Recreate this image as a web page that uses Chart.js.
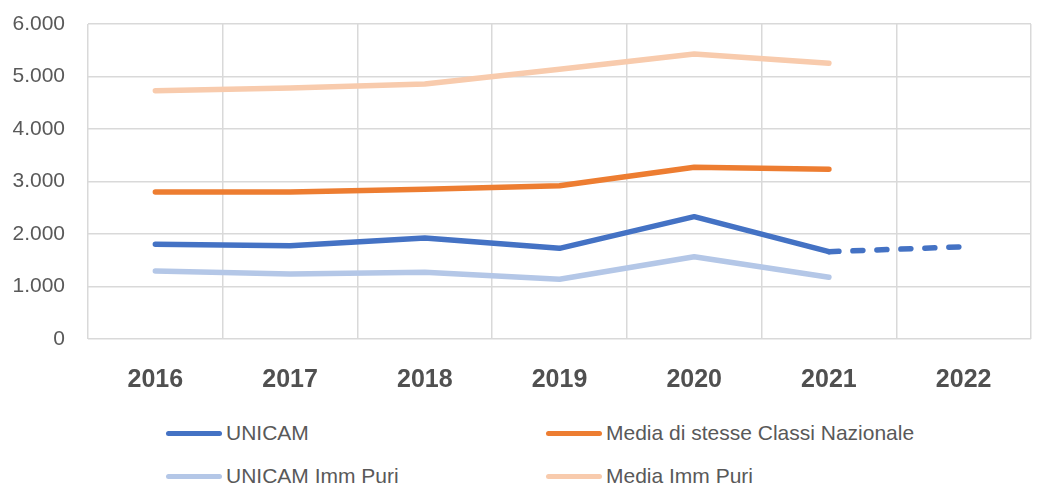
<!DOCTYPE html>
<html>
<head>
<meta charset="utf-8">
<script src="https://cdn.jsdelivr.net/npm/chart.js@4"></script>
<style>
  body { margin: 0; background: #fff; font-family: "Liberation Sans", Arial, sans-serif; }
  #wrap { position: relative; width: 1038px; height: 489px; }
  #chartBox { position: absolute; left: 0; top: 0; width: 1038px; height: 405px; }
  .leg { position: absolute; display: flex; align-items: center; font-size: 21px; color: #595959; white-space: nowrap; }
  .leg span.sw { display: inline-block; width: 56px; height: 5px; border-radius: 3px; margin-right: 4px; }
</style>
</head>
<body>
<div id="wrap">
  <div id="chartBox"><canvas id="weatherChart"></canvas></div>
  <div id="legend"></div>
</div>
<script>
// Data
const years = ['2016', '2017', '2018', '2019', '2020', '2021', '2022'];
const unicam = [1804, 1778, 1924, 1727, 2330, 1663, 1758];
const mediaClassi = [2800, 2800, 2851, 2920, 3270, 3232, null];
const unicamImmPuri = [1295, 1238, 1270, 1137, 1568, 1175, null];
const mediaImmPuri = [4730, 4781, 4857, 5137, 5429, 5251, null];
const yTicks = [0, 1000, 2000, 3000, 4000, 5000, 6000];

const seriesNames = ['UNICAM', 'Media di stesse Classi Nazionale', 'UNICAM Imm Puri', 'Media Imm Puri'];
const seriesColors = ['#4472C4', '#ED7D31', '#B4C7E7', '#F8CBAD'];

function formatIt(v) {
  return v.toLocaleString('it-IT').replace(/\u00a0/g, '.');
}

// Build the datasets
function makeDataset(i, values) {
  return {
    label: seriesNames[i],
    data: values,
    borderColor: seriesColors[i],
    backgroundColor: seriesColors[i],
    borderWidth: 5.5,
    borderCapStyle: 'round',
    borderJoinStyle: 'round',
    pointRadius: 0,
    pointHoverRadius: 0,
    tension: 0,
    spanGaps: false
  };
}

const dsUnicam = makeDataset(0, unicam);
// last segment (2021 -> 2022) is dashed
dsUnicam.segment = {
  borderDash: ctx => ctx.p1DataIndex === 6 ? [10, 14] : undefined
};

const datasets = [
  makeDataset(3, mediaImmPuri),
  makeDataset(2, unicamImmPuri),
  makeDataset(1, mediaClassi),
  dsUnicam
];

const ctx = document.getElementById('weatherChart').getContext('2d');
window.weatherChart = new Chart(ctx, {
  type: 'line',
  data: { labels: years, datasets: datasets },
  options: {
    responsive: true,
    maintainAspectRatio: false,
    animation: false,
    layout: { padding: { top: 24, right: 7, left: 0, bottom: 0 } },
    plugins: { legend: { display: false }, tooltip: { enabled: false } },
    scales: {
      x: {
        offset: true,
        grid: { offset: true, color: '#d9d9d9', lineWidth: 1.5, drawTicks: false },
        border: { display: false },
        ticks: {
          color: '#505050',
          padding: 26,
          font: { family: '"Liberation Sans", Arial, sans-serif', size: 25, weight: 'bold' }
        },
        afterFit: scale => { scale.height = 66; scale.paddingLeft = 0; scale.paddingRight = 0; }
      },
      y: {
        min: 0,
        max: 6000,
        afterBuildTicks: scale => { scale.ticks = yTicks.map(v => ({ value: v })); },
        grid: { color: '#d9d9d9', lineWidth: 1.5, drawTicks: false },
        border: { display: false },
        ticks: {
          color: '#595959',
          padding: 23,
          font: { family: '"Liberation Sans", Arial, sans-serif', size: 21 },
          callback: v => formatIt(v)
        },
        afterFit: scale => { scale.width = 88; scale.paddingTop = 0; scale.paddingBottom = 0; }
      }
    }
  }
});

// HTML legend in two columns
const legendPos = [[166, 434], [546, 434], [166, 477], [546, 477]];
const legendBox = document.getElementById('legend');
seriesNames.forEach((name, i) => {
  const item = document.createElement('div');
  item.className = 'leg';
  item.style.left = legendPos[i][0] + 'px';
  item.style.top = (legendPos[i][1] - 13) + 'px';
  item.innerHTML = `<span class="sw" style="background:${seriesColors[i]}"></span>${name}`;
  legendBox.appendChild(item);
});
</script>
</body>
</html>
